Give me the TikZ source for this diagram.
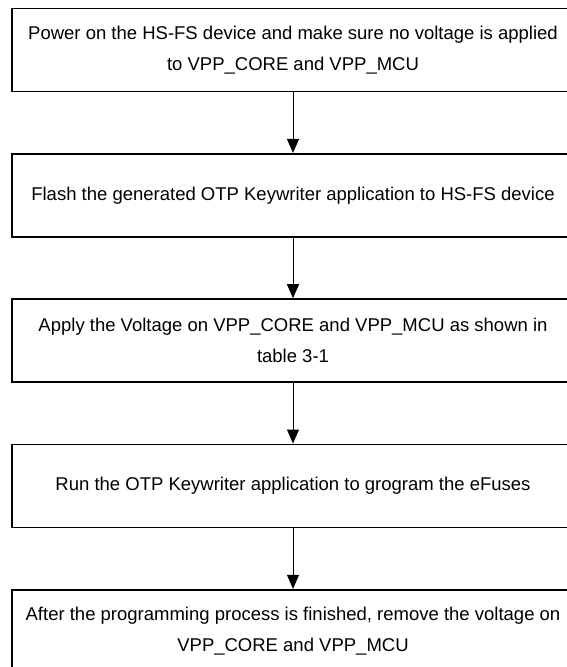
\documentclass[tikz,border=0pt]{standalone}
\usepackage{fontspec}
\setmainfont{Liberation Sans}
\usetikzlibrary{positioning,arrows.meta}
\tikzset{
  stepbox/.style={draw=black, line width=1.8pt, align=center,
                  minimum width=562pt, minimum height=83pt, inner sep=0pt,
                  font=\fontsize{18.5pt}{31.5pt}\selectfont},
  fa/.style={-{Triangle[length=14pt,width=12pt]}, black, line width=1pt}
}

\begin{document}
\begin{tikzpicture}[node distance=60.5pt]
  \useasboundingbox (0,0) rectangle (566pt,-667pt);
  \node[stepbox] (b1) at (293pt,-50pt) {Power on the HS-FS device and make sure no voltage is applied\\to VPP\_CORE and VPP\_MCU};
  \node[stepbox, below=of b1] (b2) {Flash the generated OTP Keywriter application to HS-FS device};
  \node[stepbox, below=of b2] (b3) {Apply the Voltage on VPP\_CORE and VPP\_MCU as shown in\\table 3-1};
  \node[stepbox, below=of b3] (b4) {Run the OTP Keywriter application to grogram the eFuses};
  \node[stepbox, below=of b4] (b5) {After the programming process is finished, remove the voltage on\\VPP\_CORE and VPP\_MCU};
  \draw[fa] (b1)--(b2); \draw[fa] (b2)--(b3); \draw[fa] (b3)--(b4); \draw[fa] (b4)--(b5);
\end{tikzpicture}
\end{document}
